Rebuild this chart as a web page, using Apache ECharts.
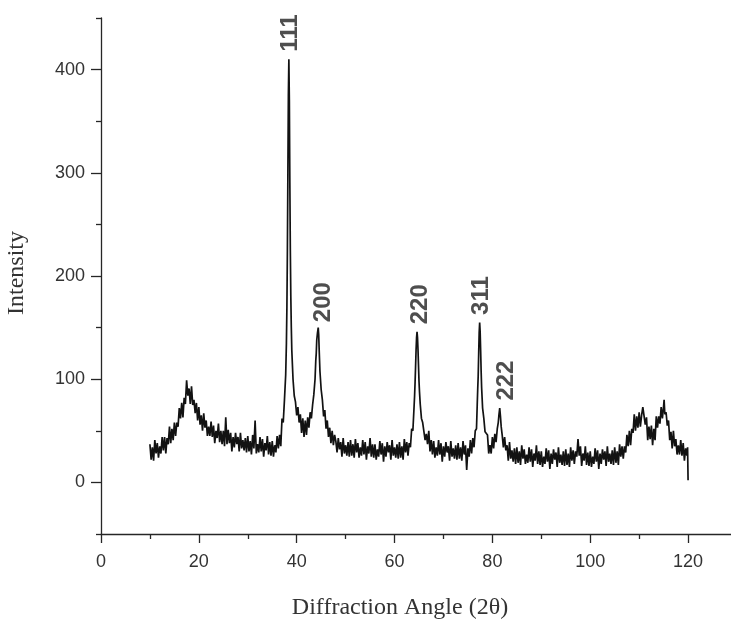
<!DOCTYPE html>
<html>
<head>
<meta charset="utf-8">
<script src="https://cdn.jsdelivr.net/npm/echarts/dist/echarts.min.js"></script>
<style>
html,body{margin:0;padding:0;background:#fff;}
#chart{width:731px;height:619px;}
</style>
</head>
<body>
<div id="chart"></div>
<script>
// X-ray diffraction scan: [2θ (deg), intensity]
const xrdScan = [
[10,37],[10.25,22],[10.5,34],[10.75,21],
[11,41],[11.25,28],[11.5,38],[11.75,24],
[12,35],[12.25,28],[12.5,44],[12.75,31],
[13,44],[13.25,28],[13.5,43],[13.75,37],
[14,54],[14.25,38],[14.5,52],[14.75,41],
[15,58],[15.25,45],[15.5,58],[15.75,54],
[16,72],[16.25,62],[16.5,77],[16.75,63],
[17,82],[17.25,76],[17.5,99],[17.75,84],
[18,91],[18.25,76],[18.5,93],[18.75,75],
[19,80],[19.25,67],[19.5,77],[19.75,60],
[20,73],[20.25,56],[20.5,65],[20.75,50],
[21,67],[21.25,53],[21.5,60],[21.75,45],
[22,54],[22.25,45],[22.5,59],[22.75,44],
[23,55],[23.25,38],[23.5,50],[23.75,43],
[24,57],[24.25,39],[24.5,50],[24.75,37],
[25,50],[25.25,35],[25.5,63],[25.75,37],
[26,51],[26.25,38],[26.5,48],[26.75,30],
[27,44],[27.25,34],[27.5,48],[27.75,37],
[28,44],[28.25,30],[28.5,48],[28.75,33],
[29,41],[29.25,31],[29.5,43],[29.75,29],
[30,45],[30.25,30],[30.5,40],[30.75,27],
[31,46],[31.25,33],[31.5,60],[31.75,28],
[32,37],[32.25,29],[32.5,44],[32.75,30],
[33,42],[33.25,25],[33.5,38],[33.75,31],
[34,45],[34.25,27],[34.5,39],[34.75,26],
[35,40],[35.25,25],[35.5,36],[35.75,29],
[36,45],[36.25,33],[36.5,46],[36.75,35],
[37,62],[37.25,58],[37.5,80],[37.75,104],
[37.9,135],[38,170],[38.1,225],[38.2,300],[38.3,375],[38.4,410],[38.5,370],[38.6,290],[38.7,225],[38.8,180],[38.9,150],
[39,128],[39.25,100],[39.5,84],[39.75,78],
[40,65],[40.25,73],[40.5,58],[40.75,66],
[41,48],[41.25,62],[41.5,44],[41.75,60],
[42,46],[42.25,63],[42.5,53],[42.75,68],
[43,62],[43.25,75],[43.5,85],[43.75,100],
[43.9,118],[44,125],[44.1,138],[44.25,145],[44.4,150],[44.5,143],[44.6,128],[44.75,108],
[45,90],[45.25,80],[45.5,64],[45.75,70],
[46,52],[46.25,60],[46.5,44],[46.75,53],
[47,38],[47.25,50],[47.5,36],[47.75,46],
[48,40],[48.25,29],[48.5,43],[48.75,32],
[49,39],[49.25,25],[49.5,43],[49.75,28],
[50,36],[50.25,26],[50.5,39],[50.75,25],
[51,41],[51.25,26],[51.5,37],[51.75,24],
[52,42],[52.25,29],[52.5,38],[52.75,24],
[53,34],[53.25,26],[53.5,41],[53.75,27],
[54,39],[54.25,22],[54.5,35],[54.75,28],
[55,43],[55.25,25],[55.5,37],[55.75,24],
[56,37],[56.25,22],[56.5,32],[56.75,25],
[57,40],[57.25,27],[57.5,38],[57.75,20],
[58,35],[58.25,25],[58.5,39],[58.75,29],
[59,36],[59.25,22],[59.5,41],[59.75,26],
[60,34],[60.25,24],[60.5,37],[60.75,23],
[61,39],[61.25,24],[61.5,35],[61.75,22],
[62,42],[62.25,29],[62.5,39],[62.75,26],
[63,38],[63.25,34],[63.5,52],[63.75,50],
[64,74],[64.1,84],[64.2,97],[64.3,112],[64.4,128],[64.5,140],[64.6,146],[64.7,140],[64.8,128],[64.9,113],
[65,98],[65.1,88],[65.25,76],[65.5,62],[65.75,58],
[66,57],[66.25,41],[66.5,47],[66.75,37],
[67,50],[67.25,30],[67.5,41],[67.75,27],
[68,40],[68.25,24],[68.5,34],[68.75,26],
[69,41],[69.25,27],[69.5,38],[69.75,20],
[70,35],[70.25,25],[70.5,39],[70.75,29],
[71,35],[71.25,21],[71.5,40],[71.75,25],
[72,33],[72.25,23],[72.5,36],[72.75,22],
[73,38],[73.25,23],[73.5,34],[73.75,21],
[74,40],[74.25,27],[74.5,36],[74.75,12],
[75,33],[75.25,25],[75.5,41],[75.75,28],
[76,43],[76.25,34],[76.5,50],[76.75,52],
[76.9,75],[77,90],[77.1,103],[77.2,125],[77.3,145],[77.4,155],[77.5,146],[77.6,128],[77.7,108],[77.8,92],
[78,72],[78.25,62],[78.5,49],[78.75,50],
[79,46],[79.25,28],[79.5,36],[79.75,28],
[80,44],[80.25,33],[80.5,47],[80.75,39],
[81,52],[81.2,58],[81.35,66],[81.5,72],[81.65,64],[81.8,54],
[82,46],[82.25,34],[82.5,44],[82.75,31],
[83,36],[83.25,21],[83.5,39],[83.75,23],
[84,31],[84.25,20],[84.5,33],[84.75,18],
[85,34],[85.25,19],[85.5,30],[85.75,17],
[86,36],[86.25,23],[86.5,32],[86.75,18],
[87,27],[87.25,19],[87.5,34],[87.75,20],
[88,32],[88.25,15],[88.5,28],[88.75,21],
[89,36],[89.25,18],[89.5,30],[89.75,17],
[90,30],[90.25,15],[90.5,25],[90.75,18],
[91,33],[91.25,20],[91.5,31],[91.75,13],
[92,28],[92.25,18],[92.5,32],[92.75,22],
[93,29],[93.25,15],[93.5,34],[93.75,19],
[94,27],[94.25,17],[94.5,30],[94.75,16],
[95,32],[95.25,17],[95.5,28],[95.75,15],
[96,34],[96.25,21],[96.5,31],[96.75,18],
[97,30],[97.25,25],[97.5,42],[97.75,26],
[98,35],[98.25,16],[98.5,28],[98.75,21],
[99,35],[99.25,17],[99.5,29],[99.75,16],
[100,30],[100.25,15],[100.5,25],[100.75,18],
[101,33],[101.25,20],[101.5,31],[101.75,13],
[102,28],[102.25,18],[102.5,32],[102.75,22],
[103,30],[103.25,16],[103.5,35],[103.75,20],
[104,28],[104.25,18],[104.5,31],[104.75,17],
[105,34],[105.25,19],[105.5,30],[105.75,17],
[106,37],[106.25,25],[106.5,35],[106.75,23],
[107,35],[107.25,29],[107.5,46],[107.75,35],
[108,50],[108.25,36],[108.5,52],[108.75,48],
[109,66],[109.25,50],[109.5,64],[109.75,53],
[110,68],[110.25,54],[110.5,65],[110.75,73],
[111,72],[111.25,56],[111.5,63],[111.75,41],
[112,54],[112.25,42],[112.5,55],[112.75,36],
[113,52],[113.25,41],[113.5,64],[113.75,53],
[114,64],[114.25,57],[114.5,73],[114.75,62],
[115,74],[115.1,80],[115.25,66],[115.5,68],[115.75,55],
[116,60],[116.25,41],[116.5,49],[116.75,33],
[117,50],[117.25,35],[117.5,42],[117.75,27],
[118,36],[118.25,27],[118.5,41],[118.75,26],
[119,38],[119.25,21],[119.5,33],[119.75,26],
[119.9,34],[120,2]
];

// Peak annotations (Miller indices): label angle and intensity at the label foot
const peakNames = ['111', '200', '220', '311', '222'];
const peakAngles = [38.75, 45.5, 65.2, 77.7, 82.8];
const peakHeights = [410, 148, 146, 155, 72];

// Axis ticks
const xMajorTicks = [0, 20, 40, 60, 80, 100, 120];
const xMinorTicks = [10, 30, 50, 70, 90, 110];
const yMajorTicks = [0, 100, 200, 300, 400];
const yMinorTicks = [-50, 50, 150, 250, 350, 450];

const axisColor = '#262626';
const textColor = '#333';

const chart = echarts.init(document.getElementById('chart'), null, {renderer: 'canvas'});

const option = {
  animation: false,
  backgroundColor: '#fff',
  grid: {left: 101, top: 18, width: 636, height: 516, containLabel: false, outerBoundsMode: 'none'},
  xAxis: [
    {
      type: 'value', position: 'bottom', min: 0, max: 130,
      axisLine: {show: true, onZero: false, lineStyle: {color: axisColor, width: 1.3}},
      axisTick: {show: true, inside: false, length: 9, customValues: xMajorTicks, lineStyle: {color: axisColor, width: 1.3}},
      axisLabel: {show: true, customValues: xMajorTicks, margin: 19, fontFamily: 'Liberation Sans', fontSize: 18, color: textColor},
      splitLine: {show: false},
      name: 'Diffraction Angle (2θ)', nameLocation: 'middle', nameGap: 62, nameMoveOverlap: false,
      nameTextStyle: {fontFamily: 'Liberation Serif', fontSize: 24, color: textColor, padding: [0, 38, 0, 0]}
    },
    {
      type: 'value', position: 'bottom', min: 0, max: 130,
      axisLine: {show: false, onZero: false},
      axisTick: {show: true, inside: false, length: 5, customValues: xMinorTicks, lineStyle: {color: axisColor, width: 1.3}},
      axisLabel: {show: false},
      splitLine: {show: false}
    }
  ],
  yAxis: [
    {
      type: 'value', position: 'left', min: -50, max: 450,
      axisLine: {show: true, onZero: false, lineStyle: {color: axisColor, width: 1.3}},
      axisTick: {show: true, inside: false, length: 10, customValues: yMajorTicks, lineStyle: {color: axisColor, width: 1.3}},
      axisLabel: {show: true, customValues: yMajorTicks, margin: 16, fontFamily: 'Liberation Sans', fontSize: 18, color: textColor},
      splitLine: {show: false},
      name: 'Intensity', nameLocation: 'middle', nameGap: 72, nameMoveOverlap: false,
      nameTextStyle: {fontFamily: 'Liberation Serif', fontSize: 24, color: textColor, padding: [0, 0, 0, 6]}
    },
    {
      type: 'value', position: 'left', min: -50, max: 450,
      axisLine: {show: false, onZero: false},
      axisTick: {show: true, inside: false, length: 5, customValues: yMinorTicks, lineStyle: {color: axisColor, width: 1.3}},
      axisLabel: {show: false},
      splitLine: {show: false}
    }
  ],
  series: [
    {
      type: 'line', xAxisIndex: 0, yAxisIndex: 0,
      data: xrdScan,
      showSymbol: false, symbol: 'none', sampling: null,
      lineStyle: {color: '#121212', width: 1.7},
      z: 2
    },
    {
      type: 'scatter', xAxisIndex: 0, yAxisIndex: 0,
      data: peakAngles.map((a, i) => [a, peakHeights[i]]),
      symbolSize: 1,
      itemStyle: {color: 'rgba(0,0,0,0)'},
      label: {
        show: true, position: 'top', distance: 7, rotate: 90,
        align: 'left', verticalAlign: 'middle',
        formatter: (p) => peakNames[p.dataIndex],
        fontFamily: 'Liberation Sans', fontWeight: 'bold', fontSize: 24, color: '#222'
      },
      z: 3
    }
  ]
};
chart.setOption(option);
</script>
</body>
</html>
